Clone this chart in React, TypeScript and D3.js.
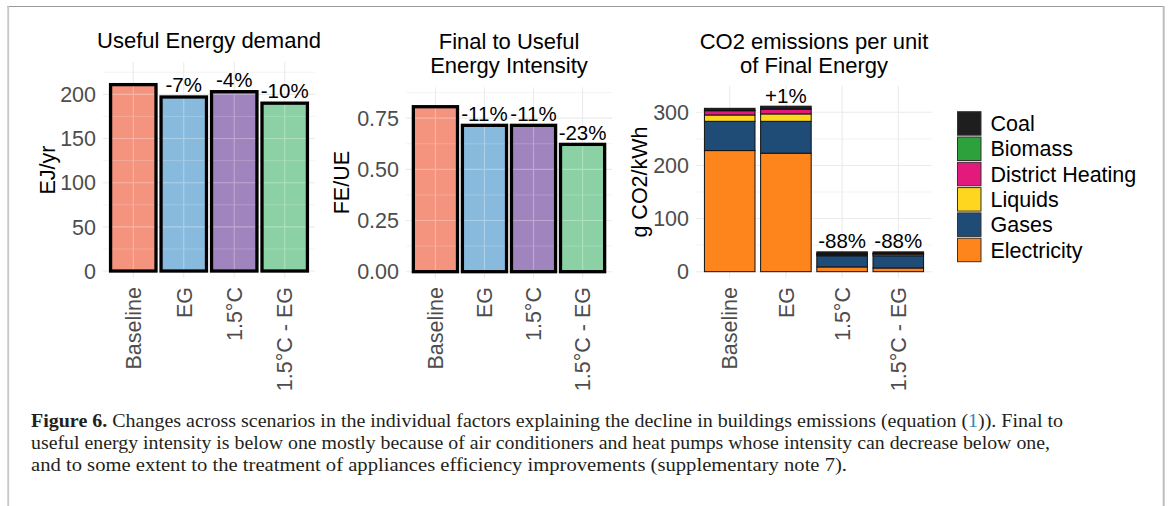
import React from "react";
import * as d3 from "d3";

const scenarios = ["Baseline", "EG", "1.5°C", "1.5°C - EG"];
const scenarioColors = ["#f4947f", "#88bbdf", "#a085be", "#8bd1a5"];

const usefulEnergy = [211, 197, 203, 190];
const usefulLabels = ["", "-7%", "-4%", "-10%"];

const intensity = [0.806, 0.715, 0.715, 0.622];
const intensityLabels = ["", "-11%", "-11%", "-23%"];

const fuels = ["Electricity", "Gases", "Liquids", "District Heating", "Biomass", "Coal"];
const fuelColors = ["#fe841c", "#1f4b77", "#fed51f", "#e21a7c", "#2ca13c", "#1e1e1e"];
const electricity = [228, 223, 9, 7];
const gases = [55, 60, 21, 23];
const liquids = [12, 14, 2, 3];
const districtHeating = [8, 9, 1, 1];
const biomass = [0.5, 0.5, 0.3, 0.3];
const coal = [4, 5, 4, 3];
const co2Labels = ["", "+1%", "-88%", "-88%"];

const legendOrder = ["Coal", "Biomass", "District Heating", "Liquids", "Gases", "Electricity"];

const ticks1 = [0, 50, 100, 150, 200];
const minor1 = [25, 75, 125, 175, 225];
const ticks2 = [0, 0.25, 0.5, 0.75];
const minor2 = [0.125, 0.375, 0.625, 0.875];
const ticks3 = [0, 100, 200, 300];
const minor3 = [50, 150, 250];

const FONT = "'Liberation Sans', Arial, Helvetica, sans-serif";
const GRID = "#ebebeb";

type PanelProps = {
  id: string;
  x0: number;
  x1: number;
  top: number;
  bottom: number;
  domain: [number, number];
  ticks: number[];
  minor: number[];
  fmt: (v: number) => string;
  title: string[];
  yTitle: string;
  yTitleX: number;
  labels: string[];
  labelGap: number;
  children: (x: d3.ScaleBand<string>, y: d3.ScaleLinear<number, number>) => React.ReactNode;
  totals: number[];
};

function Panel(p: PanelProps) {
  const x = d3.scaleBand<string>().domain(scenarios).range([p.x0, p.x1]).paddingInner(0.1).paddingOuter(0.15);
  const y = d3.scaleLinear().domain(p.domain).range([p.bottom, p.top]);
  const cx = (s: string) => (x(s) as number) + x.bandwidth() / 2;
  const midY = (p.top + p.bottom) / 2;
  const tcx = (p.x0 + p.x1) / 2;
  return (
    <g>
      {p.minor.map((v) => (
        <line key={"mn" + v} x1={p.x0} x2={p.x1} y1={y(v)} y2={y(v)} stroke={GRID} strokeWidth={0.6} />
      ))}
      {p.ticks.map((v) => (
        <line key={"mj" + v} x1={p.x0} x2={p.x1} y1={y(v)} y2={y(v)} stroke={GRID} strokeWidth={1.1} />
      ))}
      {scenarios.map((s) => (
        <line key={"vx" + s} x1={cx(s)} x2={cx(s)} y1={p.top} y2={p.bottom} stroke={GRID} strokeWidth={1.1} />
      ))}
      {p.children(x, y)}
      {p.ticks.map((v) => (
        <text key={"tl" + v} x={p.x0 - 7} y={y(v)} dy="0.36em" textAnchor="end" fontSize={21.5} fill="#4d4d4d" fontFamily={FONT}>
          {p.fmt(v)}
        </text>
      ))}
      {scenarios.map((s) => (
        <text
          key={"xl" + s}
          transform={`translate(${cx(s)},${p.bottom + 9}) rotate(-90)`}
          dy="0.36em"
          textAnchor="end"
          fontSize={21.5}
          fill="#4d4d4d"
          fontFamily={FONT}
        >
          {s}
        </text>
      ))}
      {scenarios.map((s, i) =>
        p.labels[i] ? (
          <text key={"lb" + s} x={cx(s)} y={y(p.totals[i]) - p.labelGap} textAnchor="middle" fontSize={20.5} fill="#000" fontFamily={FONT}>
            {p.labels[i]}
          </text>
        ) : null
      )}
      <text transform={`translate(${p.yTitleX},${midY}) rotate(-90)`} dy="0.36em" textAnchor="middle" fontSize={21.5} fill="#000" fontFamily={FONT}>
        {p.yTitle}
      </text>
      {p.title.map((t, i) => (
        <text key={"tt" + i} x={tcx} y={p.title.length === 1 ? 48 : 49 + i * 23.5} textAnchor="middle" fontSize={22} fill="#000" fontFamily={FONT}>
          {t}
        </text>
      ))}
    </g>
  );
}

function SimpleBars({ id, x, y, values, ticks, minor, stroke }: any) {
  const bw = x.bandwidth();
  const y0 = y(0);
  return (
    <g>
      <defs>
        <clipPath id={id}>
          {scenarios.map((s: string, i: number) => (
            <rect key={s} x={x(s)} y={y(values[i])} width={bw} height={y0 - y(values[i])} />
          ))}
        </clipPath>
      </defs>
      {scenarios.map((s: string, i: number) => (
        <rect key={"f" + s} x={x(s)} y={y(values[i])} width={bw} height={y0 - y(values[i])} fill={scenarioColors[i]} />
      ))}
      <g clipPath={`url(#${id})`} opacity={0.3}>
        {minor.map((v: number) => (
          <line key={"m" + v} x1={x.range()[0]} x2={x.range()[1]} y1={y(v)} y2={y(v)} stroke="#fff" strokeWidth={0.6} />
        ))}
        {ticks.map((v: number) => (
          <line key={"t" + v} x1={x.range()[0]} x2={x.range()[1]} y1={y(v)} y2={y(v)} stroke="#fff" strokeWidth={1.1} />
        ))}
        {scenarios.map((s: string) => (
          <line key={"v" + s} x1={x(s) + bw / 2} x2={x(s) + bw / 2} y1={0} y2={400} stroke="#fff" strokeWidth={1.1} />
        ))}
      </g>
      {scenarios.map((s: string, i: number) => (
        <rect key={"s" + s} x={x(s)} y={y(values[i])} width={bw} height={y0 - y(values[i])} fill="none" stroke="#000" strokeWidth={stroke} />
      ))}
    </g>
  );
}

function StackedBars({ x, y }: any) {
  const rows = scenarios.map((s, i) => ({
    scenario: s,
    Electricity: electricity[i],
    Gases: gases[i],
    Liquids: liquids[i],
    "District Heating": districtHeating[i],
    Biomass: biomass[i],
    Coal: coal[i],
  }));
  const series = d3.stack<any>().keys(fuels)(rows);
  const bw = x.bandwidth();
  return (
    <g>
      {series.map((ser, k) =>
        ser.map((d, i) => (
          <rect
            key={fuels[k] + i}
            x={x(scenarios[i])}
            y={y(d[1])}
            width={bw}
            height={Math.max(0, y(d[0]) - y(d[1]))}
            fill={fuelColors[k]}
            stroke="#111"
            strokeWidth={1}
          />
        ))
      )}
    </g>
  );
}

export default function App() {
  const totals3 = scenarios.map((_, i) => electricity[i] + gases[i] + liquids[i] + districtHeating[i] + biomass[i] + coal[i]);
  const captionFont = "'Liberation Serif', 'Times New Roman', serif";
  return (
    <svg width={1170} height={506} style={{ position: "absolute", left: 0, top: 0, background: "#fff" }}>
      <rect x={0} y={0} width={1170} height={506} fill="#fff" />
      {/* page frame */}
      <line x1={7} x2={1164} y1={6.5} y2={6.5} stroke="#9a9a9a" strokeWidth={1.2} />
      <line x1={8.2} x2={8.2} y1={6} y2={506} stroke="#c6c6c6" strokeWidth={1.8} />
      <line x1={1163.7} x2={1163.7} y1={6} y2={506} stroke="#bdbdbd" strokeWidth={2} />

      <Panel
        id="p1"
        x0={103}
        x1={315}
        top={62}
        bottom={278}
        domain={[-7.9, 236.6]}
        ticks={ticks1}
        minor={minor1}
        fmt={(v) => String(v)}
        title={["Useful Energy demand"]}
        yTitle="EJ/yr"
        yTitleX={47.5}
        labels={usefulLabels}
        labelGap={5}
        totals={usefulEnergy}
      >
        {(x, y) => <SimpleBars id="c1" x={x} y={y} values={usefulEnergy} ticks={ticks1} minor={minor1} stroke={3.3} />}
      </Panel>

      <Panel
        id="p2"
        x0={406}
        x1={612}
        top={87.3}
        bottom={278}
        domain={[-0.0308, 0.9008]}
        ticks={ticks2}
        minor={minor2}
        fmt={(v) => d3.format(".2f")(v)}
        title={["Final to Useful", "Energy Intensity"]}
        yTitle="FE/UE"
        yTitleX={341}
        labels={intensityLabels}
        labelGap={4.5}
        totals={intensity}
      >
        {(x, y) => <SimpleBars id="c2" x={x} y={y} values={intensity} ticks={ticks2} minor={minor2} stroke={3.3} />}
      </Panel>

      <Panel
        id="p3"
        x0={696}
        x1={932}
        top={86}
        bottom={278}
        domain={[-11.86, 349.5]}
        ticks={ticks3}
        minor={minor3}
        fmt={(v) => String(v)}
        title={["CO2 emissions per unit", "of Final Energy"]}
        yTitle="g CO2/kWh"
        yTitleX={639}
        labels={co2Labels}
        labelGap={3.5}
        totals={totals3}
      >
        {(x, y) => <StackedBars x={x} y={y} />}
      </Panel>

      {/* legend */}
      {legendOrder.map((f, i) => {
        const k = fuels.indexOf(f);
        const ky = 111.7 + i * 25.3;
        return (
          <g key={f}>
            <rect x={957.5} y={ky} width={23.5} height={23.5} fill={fuelColors[k]} stroke="#333" strokeWidth={1} />
            <text x={990.5} y={ky + 11.75} dy="0.36em" fontSize={21.5} fill="#000" fontFamily={FONT}>
              {f}
            </text>
          </g>
        );
      })}

      {/* caption */}
      <g fontFamily={captionFont} fontSize={18.5} fill="#231f20">
        <text x={31} y={426.5} textLength={1032} lengthAdjust="spacingAndGlyphs">
          <tspan fontWeight="bold">Figure 6.</tspan>
          <tspan> Changes across scenarios in the individual factors explaining the decline in buildings emissions (equation (</tspan>
          <tspan fill="#2b86c5">1</tspan>
          <tspan>)). Final to</tspan>
        </text>
        <text x={31} y={448.5} textLength={1019} lengthAdjust="spacingAndGlyphs">
          useful energy intensity is below one mostly because of air conditioners and heat pumps whose intensity can decrease below one,
        </text>
        <text x={31} y={470.5} textLength={816} lengthAdjust="spacingAndGlyphs">
          and to some extent to the treatment of appliances efficiency improvements (supplementary note 7).
        </text>
      </g>
    </svg>
  );
}
